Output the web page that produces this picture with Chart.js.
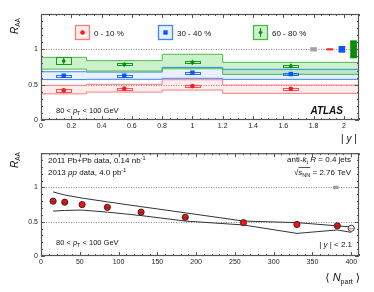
<!DOCTYPE html>
<html><head><meta charset="utf-8">
<script src="https://cdn.jsdelivr.net/npm/chart.js@4/dist/chart.umd.min.js"></script>
<style>
html,body{margin:0;padding:0;background:#fff;}
#wrap{position:relative;width:374px;height:292px;overflow:hidden;}
canvas{position:absolute;left:0;}
#c1{top:0;} #c2{top:146px;}
</style></head><body>
<div id="wrap"><canvas id="c1" width="374" height="146"></canvas><canvas id="c2" width="374" height="146"></canvas></div>
<script>
// ---------------- DATA: top panel (R_AA vs |y|) ----------------
const rapCenters   = [0.15, 0.55, 1.0, 1.65];
const rapBinEdges  = [0, 0.3, 0.8, 1.2, 2.1];
const raaCent0_10  = [0.42, 0.445, 0.48, 0.443];
const raaCent30_40 = [0.627, 0.627, 0.67, 0.65];
const raaCent60_80 = [0.835, 0.785, 0.816, 0.764];
const statCent0_10  = [0.015, 0.01, 0.01, 0.01];
const statCent30_40 = [0.015, 0.01, 0.01, 0.01];
const statCent60_80 = [0.04, 0.02, 0.02, 0.02];
const sysCent0_10  = [0.02, 0.012, 0.01, 0.012];
const sysCent30_40 = [0.015, 0.01, 0.01, 0.01];
const sysCent60_80 = [0.05, 0.015, 0.012, 0.012];
const bandHi0_10  = [0.49, 0.505, 0.57, 0.495];
const bandLo0_10  = [0.37, 0.395, 0.424, 0.377];
const bandHi30_40 = [0.683, 0.678, 0.745, 0.717];
const bandLo30_40 = [0.572, 0.576, 0.59, 0.575];
const bandHi60_80 = [0.887, 0.84, 0.93, 0.816];
const bandLo60_80 = [0.72, 0.693, 0.725, 0.646];
const centLabels = ['0 - 10 %', '30 - 40 %', '60 - 80 %'];
const normRapPos  = [1.8, 1.907, 1.987, 2.064];
const normRapHalf = [0.03, 0.015, 0.047, 0.127];
const rapTickVals   = [0, 0.2, 0.4, 0.6, 0.8, 1, 1.2, 1.4, 1.6, 1.8, 2];
const rapTickLabels = ['0','0.2','0.4','0.6','0.8','1','1.2','1.4','1.6','1.8','2'];
const raaTickVals   = [0, 0.5, 1];
const raaTickLabels = ['0','0.5','1'];
const refLines = [0.5, 1];

// ---------------- DATA: bottom panel (R_AA vs Npart) ----------------
const npart    = [15.6, 30.6, 53.0, 85.6, 129, 186, 261, 330, 382, 400];
const raaNpart = [0.80, 0.785, 0.75, 0.71, 0.64, 0.565, 0.487, 0.46, 0.44, 0.405];
const uncHi    = [0.935, 0.89, 0.845, 0.79, 0.72, 0.63, 0.51, 0.487, 0.44, 0.425];
const uncLo    = [0.655, 0.665, 0.67, 0.64, 0.59, 0.51, 0.453, 0.33, 0.38, 0.345];
const openPoint = [false,false,false,false,false,false,false,false,false,true];
const showDash  = [true,true,false,true,true,true,false,false,true,true];
const normNpartPos = 380, normNpartHalfX = 3.5, normNpartHalfY = 0.025;
const npartTickVals   = [0, 50, 100, 150, 200, 250, 300, 350, 400];
const npartTickLabels = ['0','50','100','150','200','250','300','350','400'];

// ---------------- helpers ----------------
const FAM = '"Liberation Sans", Arial, "DejaVu Sans", sans-serif';
const F = (s, st) => `${st||''} ${s}px ${FAM}`;
Chart.defaults.font.family = FAM;
Chart.defaults.color = '#222';

function rich(ctx, x, y, parts, align) {
  let w = 0;
  parts.forEach(p => { ctx.font = p[1]; w += ctx.measureText(p[0]).width; });
  let cx = align === 'right' ? x - w : align === 'center' ? x - w / 2 : x;
  const starts = [];
  parts.forEach(p => { ctx.font = p[1]; starts.push(cx); ctx.fillText(p[0], cx, y + (p[2] || 0)); cx += ctx.measureText(p[0]).width; });
  return starts.concat([cx]);
}
function marker(ctx, style, x, y, r, color) {
  ctx.fillStyle = color;
  ctx.beginPath();
  if (style === 'circle') ctx.arc(x, y, r, 0, 2 * Math.PI);
  else if (style === 'rect') ctx.rect(x - r, y - r, 2 * r, 2 * r);
  else { ctx.moveTo(x, y - r); ctx.lineTo(x + r * 0.75, y); ctx.lineTo(x, y + r); ctx.lineTo(x - r * 0.75, y); ctx.closePath(); }
  ctx.fill();
}
function hline(ctx, x1, y1, x2, y2) { ctx.beginPath(); ctx.moveTo(x1, y1); ctx.lineTo(x2, y2); ctx.stroke(); }

function framePlugin(xMinor, xMajor, yMinor, yMajor) {
  return {
    id: 'frame',
    beforeDatasetsDraw(chart) {
      const { ctx, chartArea: a, scales: { y } } = chart;
      ctx.save();
      ctx.strokeStyle = '#8a8a8a'; ctx.lineWidth = 1; ctx.setLineDash([1, 1.5]);
      refLines.forEach(v => { const p = Math.round(y.getPixelForValue(v)) + 0.5; hline(ctx, a.left, p, a.right, p); });
      ctx.restore();
    },
    afterDraw(chart) {
      const { ctx, chartArea: a, scales: { x, y } } = chart;
      ctx.save();
      ctx.strokeStyle = '#555'; ctx.lineWidth = 1;
      const steps = (sc, st) => { const out = []; const n = Math.round((sc.max - sc.min) / st); for (let i = 0; i <= n; i++) out.push(sc.min + i * st); return out; };
      steps(x, xMinor).forEach(v => {
        const isMaj = Math.abs(v / xMajor - Math.round(v / xMajor)) < 1e-6;
        const L = isMaj ? 4 : 2; const p = Math.round(x.getPixelForValue(v)) + 0.5;
        hline(ctx, p, a.bottom, p, a.bottom - L); hline(ctx, p, a.top, p, a.top + L);
      });
      steps(y, yMinor).forEach(v => {
        const isMaj = Math.abs(v / yMajor - Math.round(v / yMajor)) < 1e-6;
        const L = isMaj ? 4 : 2; const p = Math.round(y.getPixelForValue(v)) + 0.5;
        hline(ctx, a.left, p, a.left + L, p); hline(ctx, a.right, p, a.right - L, p);
      });
      ctx.lineWidth = 1.2;
      ctx.strokeRect(a.left + 0.5, a.top + 0.5, a.right - a.left - 1, a.bottom - a.top - 1);
      ctx.restore();
    }
  };
}

// ---------------- TOP CHART ----------------
const topSeries = [
  { raa: raaCent0_10,  stat: statCent0_10,  sys: sysCent0_10,  hi: bandHi0_10,  lo: bandLo0_10,  line: '#ff7a7a', fill: 'rgba(255,0,0,0.07)',  mark: '#ff1a1a', box: '#ff5050', style: 'circle', r: 2.3, order: 30, norm: '#ff2222' },
  { raa: raaCent30_40, stat: statCent30_40, sys: sysCent30_40, hi: bandHi30_40, lo: bandLo30_40, line: '#3d85ff', fill: 'rgba(0,100,255,0.09)', mark: '#0a55ff', box: '#2a70ff', style: 'rect',   r: 2.2, order: 20, norm: '#0a55ff' },
  { raa: raaCent60_80, stat: statCent60_80, sys: sysCent60_80, hi: bandHi60_80, lo: bandLo60_80, line: '#4cb84c', fill: 'rgba(0,190,0,0.2)',    mark: '#0b8f0b', box: '#1a9a1a', style: 'diamond',r: 2.8, order: 10, norm: '#009000' }
];
const stepData = vals => rapBinEdges.map((e, i) => ({ x: e, y: vals[Math.min(i, vals.length - 1)] }));
const topDatasets = [];
topSeries.forEach(s => {
  const base = topDatasets.length;
  topDatasets.push({ type: 'line', data: stepData(s.lo), stepped: true, borderColor: s.line, borderWidth: 1, pointRadius: 0, fill: false, order: s.order });
  topDatasets.push({ type: 'line', data: stepData(s.hi), stepped: true, borderColor: s.line, borderWidth: 1, pointRadius: 0, fill: { target: base }, backgroundColor: s.fill, order: s.order });
});

const topMarks = {
  id: 'topMarks',
  afterDatasetsDraw(chart) {
    const { ctx, scales: { x, y } } = chart;
    ctx.save();
    const normCols = ['#a0a0a0'].concat(topSeries.map(s => s.norm));
    normRapPos.forEach((p, i) => {
      const x1 = x.getPixelForValue(p - 0.022), x2 = x.getPixelForValue(p + 0.022);
      const y1 = y.getPixelForValue(1 + normRapHalf[i]), y2 = y.getPixelForValue(1 - normRapHalf[i]);
      ctx.fillStyle = normCols[i]; ctx.fillRect(x1, y1, x2 - x1, y2 - y1);
    });
    topSeries.forEach(s => {
      rapCenters.forEach((c, i) => {
        const px = x.getPixelForValue(c), py = y.getPixelForValue(s.raa[i]);
        const bx1 = x.getPixelForValue(c - 0.05), bx2 = x.getPixelForValue(c + 0.05);
        const by1 = y.getPixelForValue(s.raa[i] + s.sys[i]), by2 = y.getPixelForValue(s.raa[i] - s.sys[i]);
        ctx.strokeStyle = s.box; ctx.lineWidth = 1;
        ctx.strokeRect(Math.round(bx1) + 0.5, Math.round(by1) + 0.5, Math.round(bx2 - bx1), Math.max(2, Math.round(by2 - by1)));
        ctx.strokeStyle = s.mark;
        hline(ctx, px, y.getPixelForValue(s.raa[i] + s.stat[i]), px, y.getPixelForValue(s.raa[i] - s.stat[i]));
        marker(ctx, s.style, px, py, s.r, s.mark);
      });
    });
    ctx.restore();
  },
  afterDraw(chart) {
    const { ctx } = chart;
    ctx.save();
    ctx.fillStyle = '#111'; ctx.textBaseline = 'alphabetic';
    const boxX = [75, 158, 253];
    topSeries.forEach((s, k) => {
      const bx = boxX[k], by = 25, bs = 15;
      ctx.fillStyle = '#fff'; ctx.fillRect(bx, by, bs, bs);
      ctx.fillStyle = s.fill; ctx.fillRect(bx, by, bs, bs);
      ctx.strokeStyle = s.line; ctx.lineWidth = 1.3; ctx.strokeRect(bx + 0.5, by + 0.5, bs - 1, bs - 1);
      if (k === 2) { ctx.strokeStyle = s.mark; ctx.lineWidth = 1; hline(ctx, bx + bs / 2, by + 3, bx + bs / 2, by + bs - 3); }
      marker(ctx, s.style, bx + bs / 2, by + bs / 2, s.r, s.mark);
      ctx.fillStyle = '#111';
      rich(ctx, bx + bs + 4, by + 10.5, [[centLabels[k], F(8)]]);
    });
    ctx.save(); ctx.translate(17.5, 34); ctx.rotate(-Math.PI / 2);
    rich(ctx, 0, 0, [['R', F(10, 'italic')], ['AA', F(6.5), 2.5]]); ctx.restore();
    rich(ctx, 56, 113, [['80 < ', F(7.5)], ['p', F(7.5, 'italic')], ['T', F(5.5), 2], [' < 100 GeV', F(7.5)]]);
    rich(ctx, 343, 114, [['ATLAS', F(10, 'bold italic')]], 'right');
    rich(ctx, 349, 142, [['| ', F(10)], ['y', F(10, 'italic')], [' |', F(10)]], 'center');
    ctx.restore();
  }
};

new Chart(document.getElementById('c1'), {
  type: 'scatter',
  data: { datasets: topDatasets },
  options: {
    responsive: false, animation: false, events: [],
    layout: { padding: { top: 14, right: 15, left: 0, bottom: 0 } },
    plugins: { legend: { display: false }, tooltip: { enabled: false } },
    scales: {
      x: { type: 'linear', min: 0, max: 2.1, grid: { display: false, drawTicks: false }, border: { display: false },
           afterBuildTicks: s => { s.ticks = rapTickVals.map(v => ({ value: v })); },
           ticks: { padding: 2, maxRotation: 0, autoSkip: false, font: { size: 7 }, callback: (v) => rapTickLabels[rapTickVals.indexOf(v)] ?? '' },
           afterFit: s => { s.height = 26; } },
      y: { type: 'linear', min: 0, max: 1.5, grid: { display: false, drawTicks: false }, border: { display: false },
           afterBuildTicks: s => { s.ticks = raaTickVals.map(v => ({ value: v })); },
           ticks: { padding: 3, font: { size: 7 }, callback: (v) => raaTickLabels[raaTickVals.indexOf(v)] ?? '' },
           afterFit: s => { s.width = 41; } }
    }
  },
  plugins: [framePlugin(0.05, 0.2, 0.1, 0.5), topMarks]
});

// ---------------- BOTTOM CHART ----------------
const botMarks = {
  id: 'botMarks',
  afterDatasetsDraw(chart) {
    const { ctx, scales: { x, y } } = chart;
    ctx.save();
    const gx1 = x.getPixelForValue(normNpartPos - normNpartHalfX), gx2 = x.getPixelForValue(normNpartPos + normNpartHalfX);
    const gy1 = y.getPixelForValue(1 + normNpartHalfY), gy2 = y.getPixelForValue(1 - normNpartHalfY);
    ctx.fillStyle = '#a0a0a0'; ctx.fillRect(gx1, gy1, gx2 - gx1, gy2 - gy1);
    ctx.lineWidth = 0.8;
    npart.forEach((n, i) => {
      if (!showDash[i]) return;
      const px = x.getPixelForValue(n), py = y.getPixelForValue(raaNpart[i]);
      ctx.strokeStyle = openPoint[i] ? '#e33' : '#333';
      hline(ctx, px - 2.6, py + 0.5, px + 2.6, py + 0.5);
    });
    ctx.restore();
  },
  afterDraw(chart) {
    const { ctx } = chart;
    ctx.save();
    ctx.fillStyle = '#111'; ctx.textBaseline = 'alphabetic';
    ctx.save(); ctx.translate(17.5, 22); ctx.rotate(-Math.PI / 2);
    rich(ctx, 0, 0, [['R', F(10, 'italic')], ['AA', F(6.5), 2.5]]); ctx.restore();
    rich(ctx, 48, 17, [['2011 Pb+Pb data, 0.14 nb', F(8)], ['-1', F(5.5), -3.5]]);
    rich(ctx, 48, 29, [['2013 ', F(8)], ['pp', F(8, 'italic')], [' data, 4.0 pb', F(8)], ['-1', F(5.5), -3.5]]);
    rich(ctx, 351, 16, [['anti-', F(8)], ['k', F(8, 'italic')], ['t', F(5.5), 2], [' ', F(8)], ['R', F(8, 'italic')], [' = 0.4 jets', F(8)]], 'right');
    const st = rich(ctx, 351, 29, [['\u221A', F(8)], ['s', F(8, 'italic')], ['NN', F(5.5), 2], [' = 2.76 TeV', F(8)]], 'right');
    ctx.strokeStyle = '#111'; ctx.lineWidth = 0.7; hline(ctx, st[1], 29 - 7.5, st[3], 29 - 7.5);
    rich(ctx, 56, 99, [['80 < ', F(7.5)], ['p', F(7.5, 'italic')], ['T', F(5.5), 2], [' < 100 GeV', F(7.5)]]);
    rich(ctx, 352, 101, [['| ', F(8)], ['y', F(8, 'italic')], [' | < 2.1', F(8)]], 'right');
    rich(ctx, 360, 135, [['\u27E8 ', F(11)], ['N', F(11, 'italic')], ['part', F(7), 3], [' \u27E9', F(11)]], 'right');
    ctx.restore();
  }
};

new Chart(document.getElementById('c2'), {
  type: 'scatter',
  data: { datasets: [
    { type: 'scatter', data: npart.map((n, i) => ({ x: n, y: raaNpart[i] })), pointStyle: 'circle', pointRadius: 3.1,
      backgroundColor: openPoint.map(o => o ? '#ffffff' : '#ff1010'), borderColor: '#222', borderWidth: 0.9, order: 0 },
    { type: 'line', data: npart.map((n, i) => ({ x: n, y: uncHi[i] })), borderColor: '#333', borderWidth: 1, pointRadius: 0, fill: false, order: 5 },
    { type: 'line', data: npart.map((n, i) => ({ x: n, y: uncLo[i] })), borderColor: '#333', borderWidth: 1, pointRadius: 0, fill: false, order: 5 }
  ] },
  options: {
    responsive: false, animation: false, events: [],
    layout: { padding: { top: 4, right: 15, left: 0, bottom: 0 } },
    plugins: { legend: { display: false }, tooltip: { enabled: false } },
    scales: {
      x: { type: 'linear', min: 0, max: 410, grid: { display: false, drawTicks: false }, border: { display: false },
           afterBuildTicks: s => { s.ticks = npartTickVals.map(v => ({ value: v })); },
           ticks: { padding: 2, maxRotation: 0, autoSkip: false, font: { size: 7 }, callback: (v) => npartTickLabels[npartTickVals.indexOf(v)] ?? '' },
           afterFit: s => { s.height = 36; } },
      y: { type: 'linear', min: 0, max: 1.5, grid: { display: false, drawTicks: false }, border: { display: false },
           afterBuildTicks: s => { s.ticks = raaTickVals.map(v => ({ value: v })); },
           ticks: { padding: 3, font: { size: 7 }, callback: (v) => raaTickLabels[raaTickVals.indexOf(v)] ?? '' },
           afterFit: s => { s.width = 41; } }
    }
  },
  plugins: [framePlugin(10, 50, 0.1, 0.5), botMarks]
});
</script>
</body></html>
